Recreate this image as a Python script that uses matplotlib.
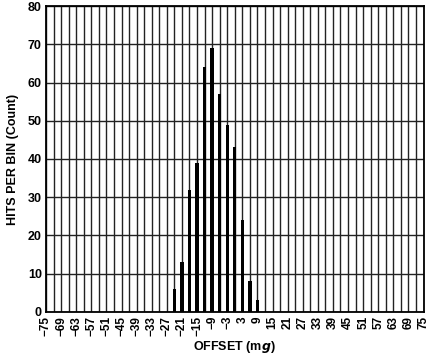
import numpy as np
import matplotlib.pyplot as plt

plt.rcParams['font.family'] = ['Liberation Sans', 'DejaVu Sans']

# Histogram data
offset = [-24, -21, -18, -15, -12, -9, -6, -3, 0, 3, 6, 9]  # bin centre [mg]
hits = [6, 13, 32, 39, 64, 69, 57, 49, 43, 24, 8, 3]       # hits per bin

xticks = np.arange(-75, 76, 6)
xgrid = np.arange(-75, 76, 3)
yticks = np.arange(0, 81, 10)

fig = plt.figure(figsize=(4.3, 3.56), dpi=100)
ax = fig.add_axes([0.107, 0.124, 0.878, 0.859])

for x in xgrid:
    ax.axvline(x, color='#222222', lw=1.0, zorder=1)
for y in yticks:
    ax.axhline(y, color='#222222', lw=1.0, zorder=1)

ax.bar(offset, hits, width=1.3, color='black', zorder=3)

ax.set_xlim(-75, 75)
ax.set_ylim(0, 80)
ax.set_xticks(xticks)
ax.set_xticklabels([str(v).replace('-', '\u2212') for v in xticks],
                   rotation=90, fontsize=8.5, fontweight='bold')
ax.set_yticks(yticks)
ax.set_yticklabels([str(v) for v in yticks], fontsize=9, fontweight='bold')
ax.tick_params(length=0, pad=3)
for s in ax.spines.values():
    s.set_linewidth(1.3)
    s.set_zorder(4)

ax.set_xlabel(r'OFFSET (m$\boldsymbol{g}$)', fontsize=9, fontweight='bold', labelpad=2)
ax.set_ylabel('HITS PER BIN (Count)', fontsize=9, fontweight='bold', labelpad=6)

fig.savefig('out.png', dpi=100)
